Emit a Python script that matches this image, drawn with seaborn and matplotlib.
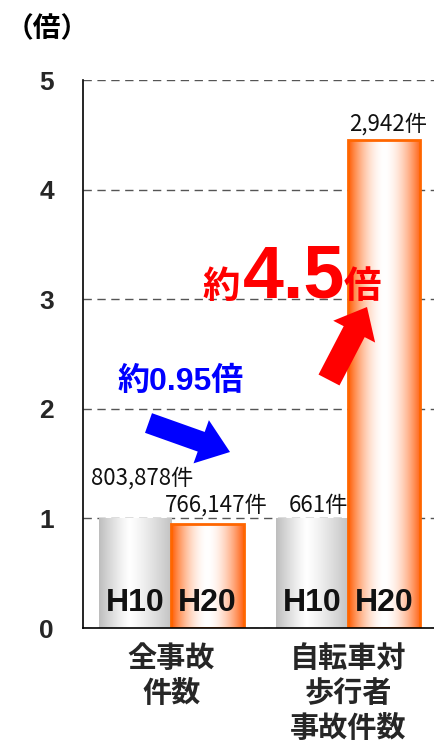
import numpy as np
import pandas as pd
import matplotlib
matplotlib.use("Agg")
import matplotlib.pyplot as plt
import seaborn as sns
from matplotlib.patches import FancyArrowPatch
from matplotlib.colors import to_rgb

# ---- data ----
categories = ["全事故\n件数", "自転車対\n歩行者\n事故件数"]
periods = ["H10", "H20"]
ratio_h10 = [1.0, 1.0]
ratio_h20 = [0.953, 4.45]
count_h10 = ["803,878件", "661件"]
count_h20 = ["766,147件", "2,942件"]
yticks = [0, 1, 2, 3, 4, 5]
ylabel_text = "（倍）"
note_all = "約0.95倍"
note_bike = ["約", "4.5", "倍"]

df = pd.DataFrame({
    "category": categories * 2,
    "period": [periods[0]] * 2 + [periods[1]] * 2,
    "ratio": ratio_h10 + ratio_h20,
    "label": count_h10 + count_h20,
})

W, H = 434, 744
sns.set_theme(style="white")
plt.rcParams["font.family"] = ["Liberation Sans", "Noto Sans CJK JP", "DejaVu Sans"]

fig = plt.figure(figsize=(W / 100, H / 100), dpi=100)
fig.patch.set_facecolor("white")
ax = fig.add_axes([83 / W, 116 / H, (W - 83) / W, 548 / H])

sns.barplot(data=df, x="category", y="ratio", hue="period", hue_order=periods,
            order=categories, width=0.82, palette=["#cccccc", "#ff6600"],
            legend=False, ax=ax, zorder=2)

ax.set_xlim(-0.501, 1.487)
ax.set_ylim(0, 5)
ax.set_yticks(yticks)
ax.set_yticklabels([str(t) for t in yticks], fontsize=19, fontweight="bold",
                   family=["Liberation Sans"])
ax.tick_params(axis="y", length=0, pad=21)
ax.tick_params(axis="x", length=0, pad=11)
ax.set_xticks(range(len(categories)))
ax.set_xticklabels(categories, fontsize=21, fontweight="bold",
                   family=["Noto Sans CJK JP"], linespacing=1.2)
ax.set_xlabel("")
ax.set_ylabel("")

ax.set_axisbelow(True)
ax.yaxis.grid(True, linestyle=(0, (6, 4)), linewidth=1, color="#555555")
ax.xaxis.grid(False)
for s in ["top", "right"]:
    ax.spines[s].set_visible(False)
ax.spines["left"].set_color("black")
ax.spines["left"].set_linewidth(1.2)
ax.spines["bottom"].set_color("black")
ax.spines["bottom"].set_linewidth(1.2)
ax.spines["left"].set_zorder(5)
ax.spines["bottom"].set_zorder(5)


def gradient_img(edge_l, edge_r, mid=0.45, power=1.3, n=256):
    t = np.linspace(0, 1, n)
    w = np.where(t < mid, (mid - t) / mid, (t - mid) / (1 - mid)) ** power
    el, er = np.array(to_rgb(edge_l)), np.array(to_rgb(edge_r))
    edge = np.where((t < mid)[:, None], el[None, :], er[None, :])
    col = (1 - w[:, None]) * np.ones(3)[None, :] + w[:, None] * edge
    return col[None, :, :]


grad = {
    "H10": gradient_img("#bdbdbd", "#c2c2c2", mid=0.42, power=1.2),
    "H20": gradient_img("#ff5a00", "#ff6010", mid=0.5, power=1.8),
}
edgecols = {"H10": "none", "H20": "#ff6600"}

for cont, per in zip(ax.containers, periods):
    for bar in cont:
        x0, y0 = bar.get_x(), bar.get_y()
        w, h = bar.get_width(), bar.get_height()
        im = ax.imshow(grad[per], extent=[x0, x0 + w, y0, y0 + h], aspect="auto",
                       zorder=2.5, interpolation="bilinear")
        im.set_clip_path(bar)
        bar.set_facecolor("none")
        bar.set_edgecolor(edgecols[per])
        bar.set_linewidth(2 if per == "H20" else 0)
        bar.set_zorder(3)
        ax.text(x0 + w / 2, 0.23, per, ha="center", va="center", fontsize=23,
                fontweight="bold", family=["Liberation Sans"], color="#111111", zorder=4)

ax.set_xlim(-0.501, 1.487)
ax.set_ylim(0, 5)

# count labels above bars
label_dy = [[29, 9.5], [13, 11.5]]  # points, [period][category]
label_dx = [[5, 5], [6, 3]]
for pi, (cont, labels) in enumerate(zip(ax.containers, [count_h10, count_h20])):
    for ci, (bar, lab) in enumerate(zip(cont, labels)):
        ax.annotate(lab, (bar.get_x() + bar.get_width() / 2, bar.get_height()),
                    xytext=(label_dx[pi][ci], label_dy[pi][ci]), textcoords="offset points",
                    ha="center", va="center", fontsize=16, color="#111111",
                    family=["Noto Sans CJK JP"], zorder=6)


def fpx(x, y):
    return (x / W, 1 - y / H)


fig.text(*fpx(47, 29), ylabel_text, ha="center", va="center", fontsize=20,
         fontweight="bold", family=["Noto Sans CJK JP"], color="black")

# blue note and arrow
fig.text(*fpx(181, 382), note_all, ha="center", va="center", fontsize=23,
         fontweight="bold", color="#0000ff")
blue = FancyArrowPatch(fpx(148.5, 423), fpx(230, 452), transform=fig.transFigure,
                       arrowstyle="simple,head_length=22,head_width=33,tail_width=15",
                       mutation_scale=1, color="#0000ff", linewidth=0,
                       shrinkA=0, shrinkB=0, zorder=10)
fig.add_artist(blue)

# red note and arrow
base_y = 298
fig.text(*fpx(240, base_y), note_bike[0], ha="right", va="baseline", fontsize=27,
         fontweight="bold", color="#ff0000", zorder=11)
fig.text(*fpx(294, base_y), note_bike[1], ha="center", va="baseline", fontsize=53,
         fontweight="bold", color="#ff0000", family=["Liberation Sans"], zorder=11)
fig.text(*fpx(344, base_y), note_bike[2], ha="left", va="baseline", fontsize=27,
         fontweight="bold", color="#ff0000", zorder=11)
red = FancyArrowPatch(fpx(329, 380), fpx(367, 307), transform=fig.transFigure,
                      arrowstyle="simple,head_length=20,head_width=34,tail_width=17",
                      mutation_scale=1, color="#ff0000", linewidth=0,
                      shrinkA=0, shrinkB=0, zorder=10)
fig.add_artist(red)

fig.savefig("out.png", dpi=100, facecolor="white")
